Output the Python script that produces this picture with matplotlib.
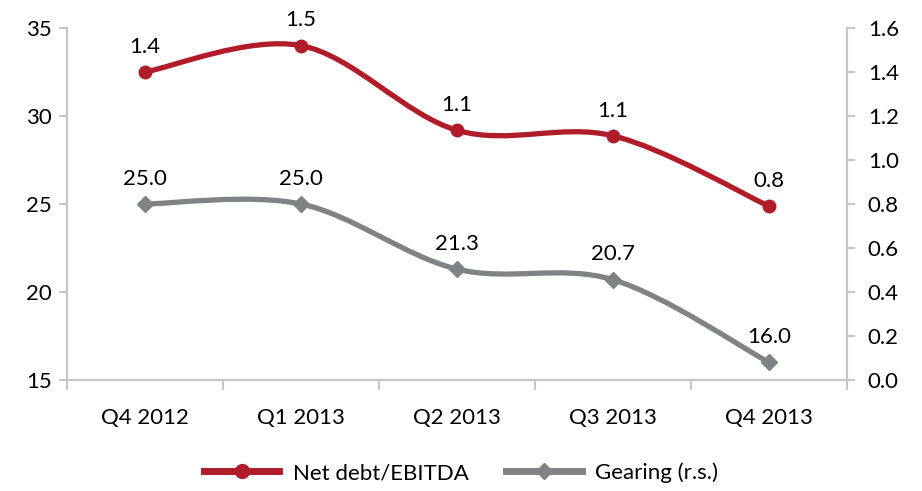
import numpy as np
import matplotlib
matplotlib.use('Agg')
import matplotlib.pyplot as plt
from matplotlib.path import Path
from matplotlib.patches import PathPatch
from matplotlib.lines import Line2D

#-----------------Data-------------

quarters = ['Q4 2012', 'Q1 2013', 'Q2 2013', 'Q3 2013', 'Q4 2013']
net_debt_ebitda = [1.40, 1.52, 1.135, 1.11, 0.79]
net_debt_labels = ['1.4', '1.5', '1.1', '1.1', '0.8']
gearing = [25.0, 25.0, 21.3, 20.7, 16.0]
gearing_labels = ['25.0', '25.0', '21.3', '20.7', '16.0']

red = '#b01c2a'
grey = '#7f8386'
axis_col = '#c6c6c6'

plt.rcParams['font.family'] = ['Lato', 'DejaVu Sans']
plt.rcParams['font.size'] = 16


#-----------------Smooth line helper (Excel-like bezier)-------------

def smooth_path(xs, ys):
    pts = np.column_stack([xs, ys]).astype(float)
    n = len(pts)
    verts = [pts[0]]
    codes = [Path.MOVETO]
    for i in range(n - 1):
        p0 = pts[i - 1] if i > 0 else pts[i]
        p1 = pts[i]
        p2 = pts[i + 1]
        p3 = pts[i + 2] if i + 2 < n else pts[i + 1]
        c1 = p1 + (p2 - p0) / 6
        c2 = p2 - (p3 - p1) / 6
        verts += [c1, c2, p2]
        codes += [Path.CURVE4] * 3
    return Path(verts, codes)


#-----------------Figure-------------

fig = plt.figure(figsize=(9.22, 4.91), dpi=100)
ax = fig.add_axes([0.0727, 0.226, 0.8460, 0.717])
ax2 = ax.twinx()

x = np.arange(len(quarters))

# gearing on the left scale
ax.add_patch(PathPatch(smooth_path(x, gearing), fill=False, edgecolor=grey,
                       lw=3.8, capstyle='round', joinstyle='round', zorder=2))
ax.plot(x, gearing, ls='none', marker='D', ms=8, color=grey, zorder=3)
for xi, yi, lab in zip(x, gearing, gearing_labels):
    ax.annotate(lab, (xi, yi), xytext=(0, 11), textcoords='offset points',
                ha='center', va='bottom', fontsize=16)

# net debt / EBITDA on the right scale
ax2.add_patch(PathPatch(smooth_path(x, net_debt_ebitda), fill=False, edgecolor=red,
                        lw=3.8, capstyle='round', joinstyle='round', zorder=2))
ax2.plot(x, net_debt_ebitda, ls='none', marker='o', ms=9, color=red, zorder=3)
for xi, yi, lab in zip(x, net_debt_ebitda, net_debt_labels):
    ax2.annotate(lab, (xi, yi), xytext=(0, 11), textcoords='offset points',
                 ha='center', va='bottom', fontsize=16)

ax.set_xlim(-0.5, len(quarters) - 0.5)
ax.set_ylim(15, 35)
ax.set_yticks([15, 20, 25, 30, 35])
ax2.set_ylim(0, 1.6)
ax2.set_yticks(np.arange(0, 1.61, 0.2))
ax2.set_yticklabels([f'{v:.1f}' for v in np.arange(0, 1.61, 0.2)])

ax.set_xticks(x)
ax.set_xticklabels(quarters)
ax.set_xticks(np.arange(-0.5, len(quarters), 1), minor=True)
ax.tick_params(axis='x', which='major', length=0, pad=20)
ax.tick_params(axis='x', which='minor', length=7, width=1.5, color=axis_col)
ax.tick_params(axis='y', length=6, width=1.5, color=axis_col, pad=5)
ax2.tick_params(axis='y', length=6, width=1.5, color=axis_col, pad=9)

for a in (ax, ax2):
    a.spines['top'].set_visible(False)
    for s in ('left', 'right', 'bottom'):
        a.spines[s].set_color(axis_col)
        a.spines[s].set_linewidth(1.5)

handles = [
    Line2D([], [], color=red, lw=5, marker='o', ms=10),
    Line2D([], [], color=grey, lw=5, marker='D', ms=8),
]
fig.legend(handles, ['Net debt/EBITDA', 'Gearing (r.s.)'], loc='center',
           bbox_to_anchor=(0.5, 0.037), ncol=2, frameon=False, fontsize=16,
           handlelength=3.4, columnspacing=1.7, handletextpad=0.6)

fig.savefig('out.png', dpi=100)
